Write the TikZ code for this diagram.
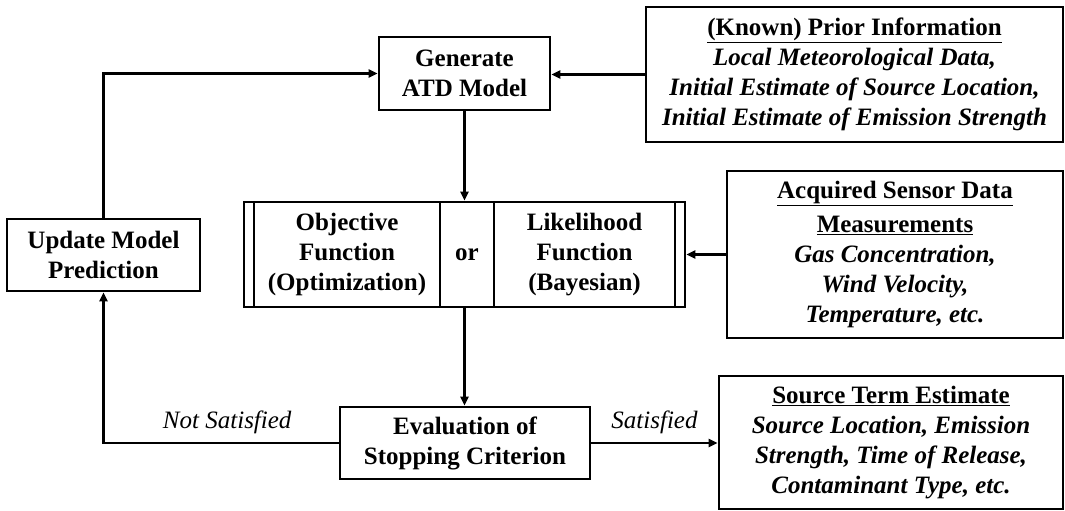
\documentclass[tikz,border=0pt]{standalone}
\usepackage{fontspec}
\setmainfont{Liberation Serif}
\usetikzlibrary{arrows.meta}
\begin{document}
\begin{tikzpicture}[x=1pt,y=-1pt,
  txt/.style={align=center, font=\fontsize{25}{30}\selectfont\bfseries, inner sep=0pt},
  box/.style={txt, draw, line width=2.6pt},
  conn/.style={line width=2.6pt, -{Triangle[length=9pt,width=8pt]}},
  lbl/.style={font=\fontsize{25}{30}\selectfont\itshape, inner sep=0pt}]
\useasboundingbox[fill=white] (0,0) rectangle (1065,511);
\node[box, minimum width=193pt, minimum height=72pt] (upd) at (103.5,255) {Update Model\\Prediction};
\node[box, minimum width=171pt, minimum height=73pt] (gen) at (464.5,73.5) {Generate\\ATD Model};
\node[box, minimum width=417pt, minimum height=135pt] (prior) at (854.5,74.5)
  {\underline{(Known) Prior Information}\\\textit{Local Meteorological Data,}\\\textit{Initial Estimate of Source Location,}\\\textit{Initial Estimate of Emission Strength}};
\node[box, minimum width=441pt, minimum height=105pt] (cen) at (464.5,254.5) {};
\node[txt] (obj) at (347,254.5) {Objective\\Function\\(Optimization)};
\node[txt] (orn) at (467,254.5) {or};
\node[txt] (lik) at (584.5,254.5) {Likelihood\\Function\\(Bayesian)};
\draw[line width=2.6pt] (254,202) -- (254,307) (440,202) -- (440,307) (494,202) -- (494,307) (675,202) -- (675,307);
\node[box, minimum width=336pt, minimum height=167pt] (acq) at (895,254.5)
  {\underline{Acquired Sensor Data}\\[4pt]\underline{Measurements}\\\textit{Gas Concentration,}\\\textit{Wind Velocity,}\\\textit{Temperature, etc.}};
\node[box, minimum width=250pt, minimum height=72pt] (eval) at (465,443) {Evaluation of\\Stopping Criterion};
\node[box, minimum width=344pt, minimum height=133pt] (src) at (891,442.5)
  {\underline{Source Term Estimate}\\\textit{Source Location, Emission}\\\textit{Strength, Time of Release,}\\\textit{Contaminant Type, etc.}};
\draw[conn] (upd.north) |- (gen.west);
\draw[conn] (prior.west) -- (prior.west -| gen.east);
\draw[conn] (gen.south) -- (cen.north);
\draw[conn] (acq.west) -- (acq.west -| cen.east);
\draw[conn] (cen.south) -- (cen.south |- eval.north);
\draw[conn] (eval.west) -| node[lbl, pos=0.237, above=8pt] (ns) {Not Satisfied} (upd.south);
\draw[conn] (eval.east) -- node[lbl, pos=0.5, above=8pt] (sat) {Satisfied} (eval.east -| src.west);
\end{tikzpicture}
\end{document}
